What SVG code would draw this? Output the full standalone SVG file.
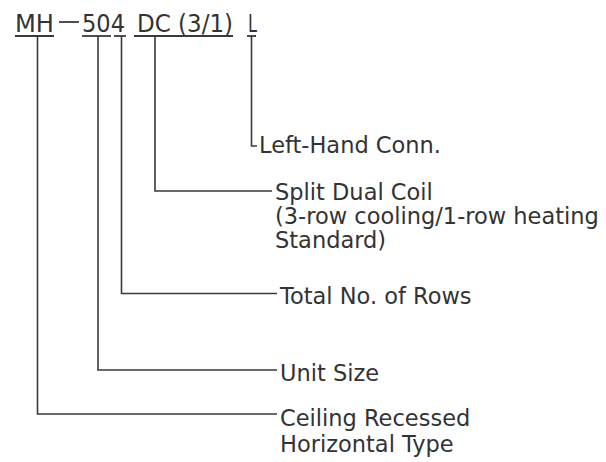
<svg xmlns="http://www.w3.org/2000/svg" width="606" height="462" viewBox="0 0 606 462">
<style>
.t{font-family:"DejaVu Sans","Liberation Sans",sans-serif;fill:#333333}
.title{font-size:24px}
.lbl{font-size:22.5px}
.ln{stroke:#3a3a3a;stroke-width:1.6;fill:none}
.ul{stroke:#3a3a3a;stroke-width:1.8;fill:none}
</style>
<rect width="606" height="462" fill="#ffffff"/>
<g id="code">
<text class="t title" x="15" y="32" textLength="39" lengthAdjust="spacingAndGlyphs">MH</text>
<line class="ul" x1="59" y1="22" x2="79" y2="22"/>
<text class="t title" x="82" y="32" textLength="43" lengthAdjust="spacingAndGlyphs">504</text>
<text class="t title" x="137" y="32" textLength="96" lengthAdjust="spacingAndGlyphs">DC (3/1)</text>
<text class="t title" x="248" y="32" textLength="9" lengthAdjust="spacingAndGlyphs">L</text>
<line class="ul" x1="15" y1="36" x2="54" y2="36"/>
<line class="ul" x1="82" y1="36" x2="111" y2="36"/>
<line class="ul" x1="114" y1="36" x2="126" y2="36"/>
<line class="ul" x1="134" y1="36" x2="233" y2="36"/>
<line class="ul" x1="247" y1="36" x2="256" y2="36"/>
</g>
<g id="connectors">
<path class="ln" d="M251.5,36 V146 H257"/>
<path class="ln" d="M155,36 V191 H272"/>
<path class="ln" d="M121.5,36 V293.5 H277"/>
<path class="ln" d="M98,36 V370 H277"/>
<path class="ln" d="M37.5,36 V414 H277"/>
</g>
<g id="left-hand">
<text class="t lbl" x="259" y="153">Left-Hand Conn.</text>
</g>
<g id="split-dual-coil">
<text class="t lbl" x="275" y="200">Split Dual Coil</text>
<text class="t lbl" x="275" y="224">(3-row cooling/1-row heating</text>
<text class="t lbl" x="275" y="248">Standard)</text>
</g>
<g id="total-rows">
<text class="t lbl" x="280" y="304">Total No. of Rows</text>
</g>
<g id="unit-size">
<text class="t lbl" x="280" y="381">Unit Size</text>
</g>
<g id="ceiling">
<text class="t lbl" x="280" y="426">Ceiling Recessed</text>
<text class="t lbl" x="280" y="452">Horizontal Type</text>
</g>
</svg>
